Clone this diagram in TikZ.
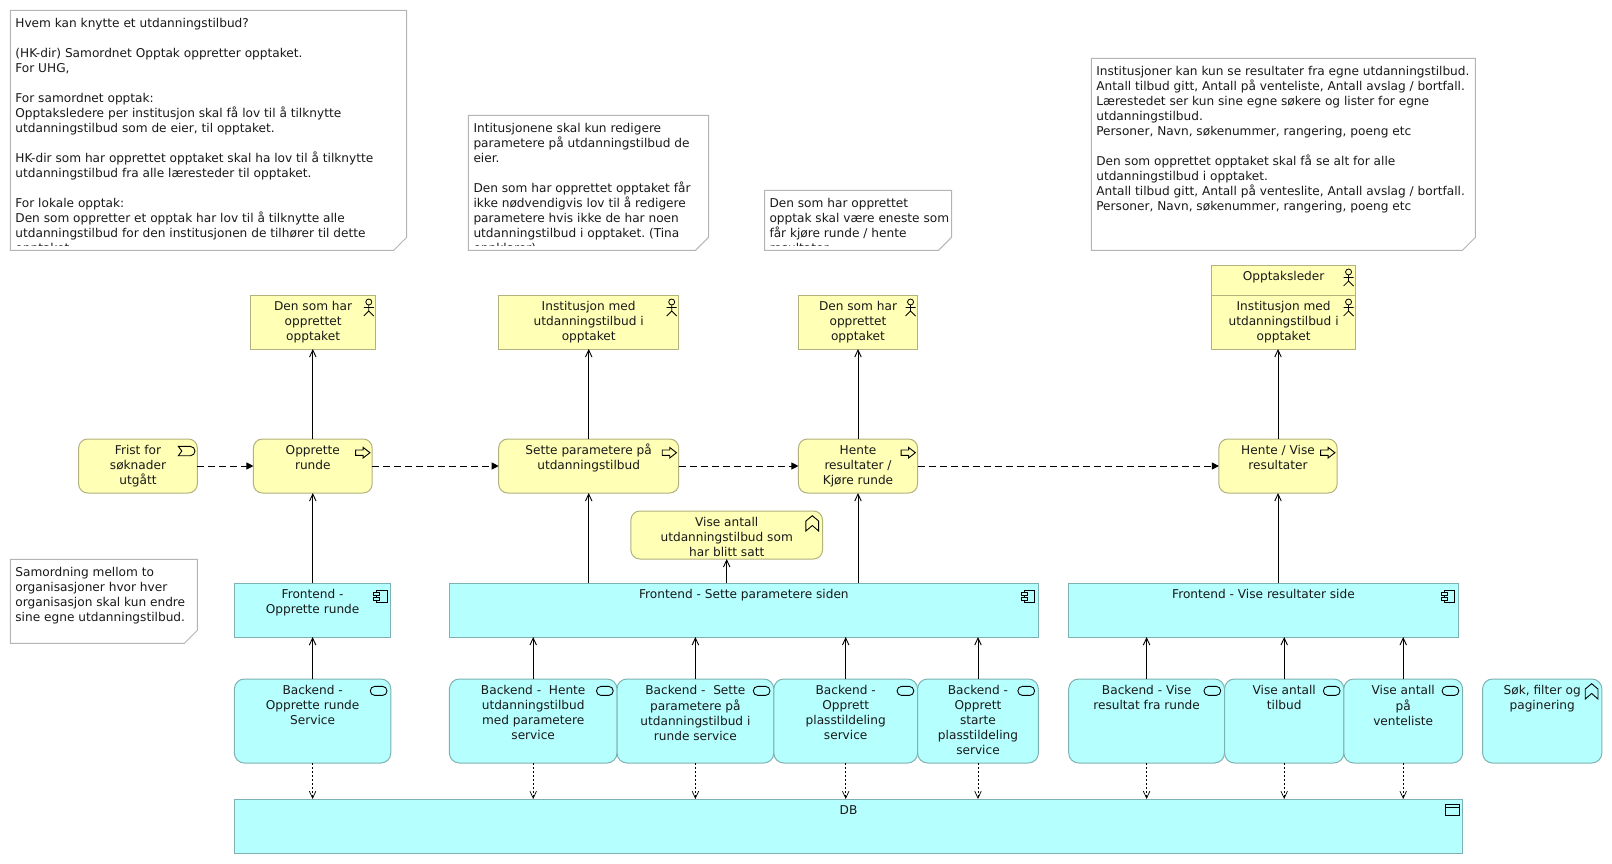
\documentclass[tikz,border=0pt]{standalone}
\usepackage{fontspec}
\setmainfont{DejaVu Sans}
\frenchspacing
\usetikzlibrary{arrows.meta}
\definecolor{bizfill}{HTML}{FFFFB5}
\definecolor{bizline}{HTML}{B2B27E}
\definecolor{appfill}{HTML}{B5FFFF}
\definecolor{appline}{HTML}{7EB2B2}
\definecolor{noteline}{HTML}{B4B4B4}
\newcommand{\boxtext}[3]{\parbox[c][#2][t]{#1}{\centering\vspace*{5.3pt}\strut #3}}
\tikzset{
  >={Straight Barb[length=7pt,width=6.5pt]},
  every node/.style={font=\fontsize{12.15}{15}\selectfont,text=black!90,inner sep=0pt,outer sep=0pt},
  bizbox/.style={rectangle,draw=bizline,fill=bizfill,line width=1pt},
  bizround/.style={bizbox,rounded corners=9pt},
  appbox/.style={rectangle,draw=appline,fill=appfill,line width=1pt},
  appround/.style={appbox,rounded corners=10pt},
  notebox/.style={draw=noteline,fill=white,line width=1pt},
  notetext/.style={anchor=north west,align=left},
  uses/.style={->,line width=.9pt},
  trigger/.style={-{Triangle[length=7pt,width=7pt]},line width=.9pt,dash pattern=on 7pt off 4pt},
  access/.style={->,line width=.7pt,dash pattern=on 2pt off 2pt},
  actoricon/.pic={
    \draw[line width=.8pt] (-7,7) circle (3);
    \draw[line width=.8pt] (-7,10)--(-7,16) (-12,12.5)--(-2,12.5) (-12,21)--(-7,16)--(-2,21);
  },
  arrowicon/.pic={
    \draw[line width=.9pt,fill=bizfill] (-16.5,11)--(-9,11)--(-9,8.4)--(-2.2,13.7)--(-9,19)--(-9,16.4)--(-16.5,16.4)--cycle;
  },
  eventicon/.pic={
    \draw[line width=.9pt] (-19,7.4)--(-7,7.4) arc (-90:90:4.65)--(-19,16.7)--(-15.5,12)--cycle;
  },
  compicon/.pic={
    \draw[line width=.9pt] (-14,7)rectangle(-3.7,19.7);
    \draw[line width=.9pt,fill=appfill] (-17,9.5)rectangle(-11,12.5) (-17,14.5)rectangle(-11,17.5);
  },
  serviceicon/.pic={
    \draw[line width=.9pt,rounded corners=4.4pt] (-20.5,7.4)rectangle(-3.8,16.4);
  },
  funcicon/.pic={
    \draw[line width=.9pt] (-16.6,10)--(-10.2,4.7)--(-3.9,10)--(-3.9,20)--(-10.2,14.5)--(-16.6,20)--cycle;
  },
  dataicon/.pic={
    \draw[line width=.9pt] (-17.6,5.7)rectangle(-3.6,16.4) (-17.6,8.5)--(-3.6,8.5);
  }
}
\begin{document}
\begin{tikzpicture}[x=1pt,y=-1pt]
\useasboundingbox (0,0) rectangle (1612,864);
% notes
\draw[notebox] (10.3,10.3)-|(406.7,237.3)--(393.7,250.3)-|cycle;
\draw[notebox] (468.4,115.3)-|(708.5,237.3)--(695.5,250.3)-|cycle;
\draw[notebox] (764.5,190.3)-|(951.5,237.3)--(938.5,250.3)-|cycle;
\draw[notebox] (1091.3,58.3)-|(1475.4,237.3)--(1462.4,250.3)-|cycle;
\draw[notebox] (10.3,559.3)-|(197.4,630.3)--(184.4,643.3)-|cycle;
\begin{scope}
\clip (0,0) rectangle (1612,245.7);
\node[notetext] (whoNote) at (15.4,18) {Hvem kan knytte et utdanningstilbud?\\ \\(HK-dir) Samordnet Opptak oppretter opptaket.\\For UHG,\\ \\For samordnet opptak:\\Opptaksledere per institusjon skal få lov til å tilknytte\\utdanningstilbud som de eier, til opptaket.\\ \\HK-dir som har opprettet opptaket skal ha lov til å tilknytte\\utdanningstilbud fra alle læresteder til opptaket.\\ \\For lokale opptak:\\Den som oppretter et opptak har lov til å tilknytte alle\\utdanningstilbud for den institusjonen de tilhører til dette\\opptaket.};
\node[notetext] (paramNote) at (473.5,123) {Intitusjonene skal kun redigere\\parametere på utdanningstilbud de\\eier.\\ \\Den som har opprettet opptaket får\\ikke nødvendigvis lov til å redigere\\parametere hvis ikke de har noen\\utdanningstilbud i opptaket. (Tina\\oppklarer)};
\node[notetext] (runNote) at (769.5,198) {Den som har opprettet\\opptak skal være eneste som\\får kjøre runde / hente\\resultater};
\end{scope}
\node[notetext] (resultNote) at (1096.3,66) {Institusjoner kan kun se resultater fra egne utdanningstilbud.\\Antall tilbud gitt, Antall på venteliste, Antall avslag / bortfall.\\Lærestedet ser kun sine egne søkere og lister for egne\\utdanningstilbud.\\Personer, Navn, søkenummer, rangering, poeng etc\\ \\Den som opprettet opptaket skal få se alt for alle\\utdanningstilbud i opptaket.\\Antall tilbud gitt, Antall på venteslite, Antall avslag / bortfall.\\Personer, Navn, søkenummer, rangering, poeng etc};
\node[notetext] (orgNote) at (15.4,567) {Samordning mellom to\\organisasjoner hvor hver\\organisasjon skal kun endre\\sine egne utdanningstilbud.};
% actors
\node[bizbox] (actor1) at (313.1,322) {\boxtext{125.4pt}{54pt}{Den som har\\opprettet\\opptaket}};
\node[bizbox] (actor2) at (588.7,322) {\boxtext{180pt}{54pt}{Institusjon med\\utdanningstilbud i\\opptaket}};
\node[bizbox] (actor3) at (858,322) {\boxtext{119.1pt}{54pt}{Den som har\\opprettet\\opptaket}};
\node[bizbox] (actor4) at (1283.6,322) {\boxtext{143.9pt}{54pt}{Institusjon med\\utdanningstilbud i\\opptaket}};
\node[bizbox] (leader) at (1283.6,280) {\boxtext{143.9pt}{30pt}{Opptaksleder}};
\pic at (actor1.north east) {actoricon};
\pic at (actor2.north east) {actoricon};
\pic at (actor3.north east) {actoricon};
\pic at (actor4.north east) {actoricon};
\pic at (leader.north east) {actoricon};
% processes
\node[bizround] (frist) at (138,466) {\boxtext{118.7pt}{54pt}{Frist for\\søknader\\utgått}};
\node[bizround] (proc1) at (312.8,466) {\boxtext{118.7pt}{54pt}{Opprette\\runde}};
\node[bizround] (proc2) at (588.7,466) {\boxtext{180pt}{54pt}{Sette parametere på\\utdanningstilbud}};
\node[bizround] (proc3) at (858,466) {\boxtext{119.1pt}{54pt}{Hente\\resultater /\\Kjøre runde}};
\node[bizround] (proc4) at (1278,466) {\boxtext{118.2pt}{54pt}{Hente / Vise\\resultater}};
\pic at (frist.north east) {eventicon};
\pic at (proc1.north east) {arrowicon};
\pic at (proc2.north east) {arrowicon};
\pic at (proc3.north east) {arrowicon};
\pic at (proc4.north east) {arrowicon};
\node[bizround,minimum width=191.6pt,minimum height=48pt] (vise) at (726.7,535) {};
\begin{scope}
\clip (vise.north west) rectangle ([yshift=3pt]vise.south east);
\node[anchor=north] (visetext) at (vise.north) {\boxtext{191.6pt}{48pt}{Vise antall\\utdanningstilbud som\\har blitt satt}};
\end{scope}
\pic at (vise.north east) {funcicon};
% frontends
\node[appbox] (front1) at (312.6,610) {\boxtext{156.4pt}{54pt}{Frontend -\\Opprette runde}};
\node[appbox] (front2) at (743.9,610) {\boxtext{589pt}{54pt}{Frontend - Sette parametere siden}};
\node[appbox] (front3) at (1263.5,610) {\boxtext{389.7pt}{54pt}{Frontend - Vise resultater side}};
\pic at (front1.north east) {compicon};
\pic at (front2.north east) {compicon};
\pic at (front3.north east) {compicon};
% backends
\node[appround] (back1) at (312.6,721) {\boxtext{156.4pt}{84pt}{Backend -\\Opprette runde\\Service}};
\node[appround] (back2) at (533.2,721) {\boxtext{167.6pt}{84pt}{Backend -\ \ Hente\\utdanningstilbud\\med parametere\\service}};
\node[appround] (back3) at (695.4,721) {\boxtext{156.8pt}{84pt}{Backend -\ \ Sette\\parametere på\\utdanningstilbud i\\runde service}};
\node[appround] (back4) at (845.7,721) {\boxtext{143.8pt}{84pt}{Backend -\\Opprett\\plasstildeling\\service}};
\node[appround] (back5) at (978,721) {\boxtext{120.8pt}{84pt}{Backend -\\Opprett\\starte\\plasstildeling\\service}};
\node[appround] (back6) at (1146.6,721) {\boxtext{155.8pt}{84pt}{Backend - Vise\\resultat fra runde}};
\node[appround] (back7) at (1284.2,721) {\boxtext{119.3pt}{84pt}{Vise antall\\tilbud}};
\node[appround] (back8) at (1403.2,721) {\boxtext{118.8pt}{84pt}{Vise antall\\på\\venteliste}};
\node[appround] (search) at (1542.2,721) {\boxtext{119.3pt}{84pt}{Søk, filter og\\paginering}};
\foreach \n in {back1,back2,back3,back4,back5,back6,back7,back8}
  \pic at (\n.north east) {serviceicon};
\pic at (search.north east) {funcicon};
% database
\node[appbox] (db) at (848.5,826) {\boxtext{1228.2pt}{54pt}{DB}};
\pic at (db.north east) {dataicon};
% triggering
\draw[trigger] (frist)--(proc1);
\draw[trigger] (proc1)--(proc2);
\draw[trigger] (proc2)--(proc3);
\draw[trigger] (proc3)--(proc4);
% serving
\draw[uses] (proc1.north)--(proc1.north |- actor1.south);
\draw[uses] (proc2.north)--(proc2.north |- actor2.south);
\draw[uses] (proc3.north)--(proc3.north |- actor3.south);
\draw[uses] (proc4.north)--(proc4.north |- actor4.south);
\draw[uses] (proc1.south |- front1.north)--(proc1.south);
\draw[uses] (proc2.south |- front2.north)--(proc2.south);
\draw[uses] (vise.south |- front2.north)--(vise.south);
\draw[uses] (proc3.south |- front2.north)--(proc3.south);
\draw[uses] (proc4.south |- front3.north)--(proc4.south);
\draw[uses] (back1.north)--(front1.south);
\foreach \n in {back2,back3,back4,back5}
  \draw[uses] (\n.north)--(\n.north |- front2.south);
\foreach \n in {back6,back7,back8}
  \draw[uses] (\n.north)--(\n.north |- front3.south);
% access
\foreach \n in {back1,back2,back3,back4,back5,back6,back7,back8}
  \draw[access] (\n.south)--(\n.south |- db.north);
\end{tikzpicture}
\end{document}
